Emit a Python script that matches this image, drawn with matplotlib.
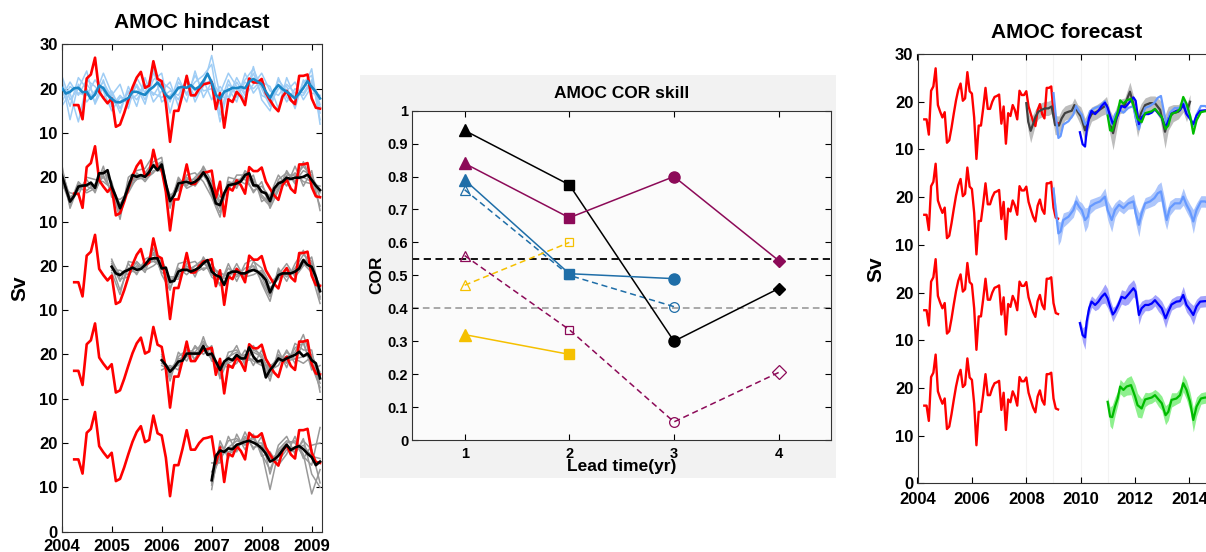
import numpy as np
import matplotlib
matplotlib.use('Agg')
import matplotlib.pyplot as plt
from matplotlib.patches import Rectangle

plt.rcParams['font.family'] = ['Liberation Sans', 'DejaVu Sans']
plt.rcParams['font.weight'] = 'bold'

W, H = 1206, 552

# --- observed AMOC (RAPID), monthly from 2004.25 ---
obs_start = 2004.25
obs = [16.3, 16.3, 13.1, 22.3, 23.2, 27.0, 19.3, 17.9, 16.7, 17.8,
       11.4, 11.9, 14.5, 17.5, 20.3, 22.5, 23.8, 20.2, 20.7, 26.2,
       22.2, 21.7, 16.7, 8.0, 15.0, 15.0, 18.7, 22.9, 18.5, 18.5,
       20.0, 21.0, 21.2, 21.5, 15.4, 19.0, 11.2, 17.6, 17.0, 19.3,
       18.2, 16.3, 22.3, 21.4, 21.4, 22.2, 19.0, 17.4, 15.9, 14.9,
       18.2, 19.5, 17.4, 16.5, 22.9, 22.9, 23.2, 17.8, 15.7, 15.5]

# --- hindcast ensemble means (monthly) ---
hc1_start = 2004.0
hc1_mean = [20.2, 18.9, 19.3, 20.1, 20.2, 19.2, 19.3, 17.7, 18.7, 20.7,
            20.1, 18.6, 17.7, 17.0, 16.9, 17.4, 17.9, 19.3, 19.3, 18.9,
            18.6, 19.7, 20.4, 21.4, 20.2, 18.6, 17.8, 18.9, 20.2, 20.4,
            20.2, 20.8, 19.9, 20.4, 21.7, 23.4, 21.4, 18.6, 17.7, 19.3,
            19.7, 20.2, 20.1, 20.4, 20.1, 21.6, 22.2, 21.6, 21.0, 19.3,
            17.9, 19.7, 20.8, 19.9, 19.3, 18.6, 17.8, 18.9, 20.2, 21.7,
            20.4, 19.3, 17.8]
hc2_start = 2004.0
hc2_mean = [20.5, 17.5, 14.5, 15.8, 17.9, 18.1, 18.2, 18.8, 17.6, 20.9,
            20.9, 21.6, 17.9, 15.6, 13.0, 15.2, 17.9, 20.5, 20.1, 20.5,
            20.1, 21.2, 22.7, 21.6, 22.9, 18.6, 14.6, 16.0, 18.6, 18.8,
            19.0, 18.6, 19.0, 19.7, 21.1, 19.7, 17.5, 14.1, 13.7, 16.4,
            18.2, 18.4, 18.6, 19.1, 20.5, 20.9, 18.2, 18.1, 16.7, 16.4,
            14.6, 17.5, 18.6, 19.0, 19.9, 19.6, 19.9, 19.9, 20.1, 20.6,
            19.4, 18.1, 17.1]
hc3_start = 2005.0
hc3_mean = [19.8, 18.3, 17.9, 18.7, 19.1, 19.6, 19.1, 19.3, 20.2, 21.5,
            21.7, 21.7, 19.4, 19.6, 16.4, 16.6, 18.7, 19.1, 19.1, 18.7,
            19.1, 19.6, 20.6, 21.3, 18.7, 17.9, 17.5, 15.7, 18.3, 18.7,
            18.7, 18.3, 18.3, 18.8, 19.1, 18.7, 17.9, 16.8, 14.0, 16.0,
            17.9, 18.3, 18.3, 18.3, 18.7, 19.4, 21.3, 20.2, 19.8, 17.5,
            14.3]
hc4_start = 2006.0
hc4_mean = [18.7, 17.6, 16.1, 17.1, 18.4, 18.6, 20.2, 20.2, 20.2, 20.2,
            21.9, 19.9, 20.2, 18.4, 16.5, 18.4, 19.1, 18.7, 19.9, 19.1,
            19.1, 21.6, 19.5, 18.4, 18.7, 14.8, 16.5, 17.6, 19.1, 18.6,
            19.1, 19.5, 19.9, 20.6, 19.6, 20.2, 18.7, 18.0, 14.6]
hc5_start = 2007.0
hc5_mean = [11.6, 17.1, 18.3, 18.0, 18.8, 18.6, 19.6, 19.9, 20.3, 20.5,
            20.1, 19.6, 18.8, 17.6, 15.8, 16.3, 17.1, 18.4, 19.6, 18.4,
            19.0, 19.3, 18.6, 17.6, 16.8, 15.0, 15.8]

# --- hindcast members (every 2 months) ---
hc1_members = [
    [21.5, 16.0, 22.5, 20.0, 17.0, 22.0, 16.0, 18.5, 16.5, 21.0, 17.5, 22.0, 23.5, 14.5, 21.5, 19.0,
     21.5, 23.0, 25.5, 14.0, 21.0, 19.0, 22.0, 24.5, 20.0, 16.0, 22.5, 18.0, 16.5, 21.5, 23.0, 13.0],
    [18.0, 21.5, 18.5, 22.0, 20.5, 18.0, 19.5, 15.5, 19.5, 17.5, 20.5, 19.0, 18.0, 19.5, 18.5, 22.0,
     18.0, 20.5, 27.5, 18.5, 17.5, 21.5, 18.5, 21.0, 23.5, 19.5, 18.5, 21.0, 19.0, 18.5, 21.5, 16.5],
    [22.5, 13.0, 21.0, 17.0, 19.5, 21.5, 18.0, 17.0, 19.0, 20.5, 16.5, 23.5, 21.0, 17.0, 22.5, 18.5,
     23.0, 19.5, 20.0, 16.5, 22.0, 18.0, 21.5, 20.0, 22.0, 16.5, 20.0, 20.5, 15.5, 22.0, 19.0, 18.5],
    [17.0, 20.5, 19.0, 18.5, 22.0, 19.5, 15.0, 18.0, 17.5, 18.5, 21.0, 18.5, 21.5, 20.0, 17.5, 21.5,
     19.5, 22.0, 17.5, 20.5, 18.0, 22.5, 19.0, 23.5, 18.5, 17.5, 21.0, 17.0, 20.0, 19.0, 22.0, 14.5],
    [16.0, 19.0, 12.5, 21.0, 18.5, 23.5, 19.0, 14.5, 20.5, 16.0, 22.5, 17.0, 19.5, 21.5, 16.0, 23.0,
     17.0, 21.0, 22.0, 12.5, 20.0, 17.0, 23.5, 19.0, 21.5, 20.5, 15.5, 22.5, 18.0, 20.0, 24.5, 12.0],
    [23.0, 17.5, 20.0, 24.0, 16.5, 20.5, 18.5, 21.0, 15.5, 22.5, 19.0, 24.5, 17.0, 18.5, 20.5, 17.0,
     24.0, 18.0, 21.5, 19.0, 23.5, 20.5, 17.5, 25.0, 17.5, 15.0, 22.0, 19.5, 21.5, 17.5, 20.5, 16.0],
]
hc2_members = [
    [21.5, 15.5, 17.0, 19.5, 16.5, 21.5, 19.0, 11.5, 19.0, 19.5, 21.0, 23.5, 24.5, 13.0, 19.5, 18.0,
     20.0, 22.0, 16.0, 12.0, 19.0, 17.5, 21.5, 19.5, 15.5, 13.5, 19.5, 21.0, 19.0, 21.5, 20.5, 15.5],
    [19.0, 14.0, 19.0, 17.0, 18.5, 20.0, 17.0, 14.0, 17.0, 21.0, 19.0, 21.5, 21.5, 15.5, 17.5, 20.0,
     18.0, 20.5, 18.5, 14.5, 17.5, 19.5, 19.5, 17.0, 18.0, 15.5, 18.0, 19.0, 21.0, 19.0, 18.5, 18.0],
    [20.5, 13.5, 18.5, 18.0, 17.0, 20.5, 16.5, 12.5, 18.5, 20.5, 20.5, 23.0, 22.0, 15.0, 19.0, 19.5,
     19.5, 21.5, 17.0, 13.0, 18.5, 18.0, 20.0, 19.0, 16.0, 14.0, 17.5, 20.5, 20.5, 20.0, 19.0, 13.5],
    [22.0, 15.0, 17.5, 18.5, 18.0, 21.5, 18.5, 13.5, 17.5, 19.5, 20.0, 22.5, 23.5, 14.0, 18.0, 18.5,
     19.0, 20.5, 17.5, 14.0, 19.0, 18.5, 21.0, 18.0, 17.0, 15.0, 19.0, 19.5, 20.0, 22.5, 20.0, 17.0],
    [18.0, 16.5, 16.0, 20.0, 19.5, 19.0, 17.5, 10.5, 20.0, 21.5, 22.0, 25.0, 21.0, 16.0, 17.0, 20.5,
     21.0, 19.0, 15.5, 11.0, 20.0, 19.5, 18.5, 20.5, 14.5, 16.0, 20.5, 18.0, 22.5, 18.0, 21.5, 12.5],
    [23.0, 13.0, 18.0, 16.5, 17.5, 22.5, 15.5, 15.0, 16.5, 20.0, 19.5, 21.0, 23.5, 13.5, 20.0, 17.5,
     18.5, 22.5, 19.0, 15.5, 17.0, 20.5, 20.5, 16.5, 19.0, 13.0, 17.0, 21.5, 18.5, 23.5, 19.0, 16.5],
]
hc3_members = [
    [20.5, 16.5, 20.5, 18.0, 21.5, 22.5, 20.5, 15.0, 19.5, 18.0, 20.0, 21.5, 17.5,
     16.0, 19.5, 17.5, 19.5, 20.0, 16.5, 13.0, 19.0, 17.5, 19.5, 22.5, 21.0, 12.5],
    [19.0, 19.0, 18.0, 20.0, 19.5, 23.0, 18.5, 17.5, 17.5, 20.0, 18.5, 19.5, 19.5,
     18.5, 17.5, 19.5, 17.5, 18.0, 19.0, 15.0, 17.0, 19.5, 18.0, 20.5, 18.5, 15.5],
    [20.0, 14.5, 19.5, 19.5, 20.5, 21.0, 20.0, 16.0, 19.0, 19.5, 19.0, 21.0, 18.0,
     17.0, 18.5, 18.0, 18.5, 20.0, 17.5, 13.5, 18.5, 18.0, 19.0, 21.5, 20.5, 13.0],
    [21.0, 18.0, 19.0, 18.5, 20.0, 21.5, 19.5, 16.5, 18.0, 19.0, 20.0, 20.5, 19.5,
     18.0, 18.0, 19.0, 18.0, 19.0, 18.5, 14.5, 17.5, 19.0, 18.5, 21.0, 19.5, 15.5],
    [18.5, 13.5, 21.0, 20.5, 18.5, 24.0, 18.0, 14.5, 20.5, 21.0, 17.5, 22.0, 19.0,
     15.5, 20.5, 16.5, 20.5, 21.5, 16.0, 12.0, 19.5, 16.5, 20.5, 23.5, 18.0, 11.5],
    [21.5, 17.0, 17.5, 21.0, 19.0, 20.0, 21.5, 17.0, 17.0, 20.5, 21.0, 19.0, 20.5,
     17.5, 17.0, 20.5, 17.0, 21.0, 19.5, 16.0, 18.0, 20.5, 17.5, 20.0, 22.0, 14.0],
]
hc4_members = [
    [20.0, 15.0, 19.5, 21.0, 19.0, 22.5, 21.0, 15.0, 20.5, 21.0, 18.0, 21.0, 20.0, 15.0, 20.0, 18.0, 21.5, 22.5, 17.5, 12.5],
    [18.0, 17.0, 17.5, 19.5, 21.5, 21.0, 19.0, 17.5, 18.0, 19.0, 20.0, 18.5, 17.5, 17.5, 18.5, 20.5, 19.0, 18.0, 19.5, 16.0],
    [19.5, 15.5, 18.0, 21.0, 20.5, 23.0, 20.5, 16.0, 19.5, 20.5, 19.5, 20.5, 19.5, 16.0, 19.0, 19.5, 20.5, 24.5, 18.5, 13.5],
    [17.5, 16.5, 19.0, 19.5, 20.0, 21.5, 19.5, 17.0, 18.5, 19.5, 18.5, 19.0, 18.0, 17.0, 19.5, 18.5, 19.0, 19.5, 20.0, 15.0],
    [21.0, 14.0, 20.5, 18.5, 22.0, 20.0, 22.0, 14.5, 19.0, 22.0, 17.5, 22.0, 19.0, 14.0, 21.0, 17.0, 22.5, 21.0, 21.0, 11.5],
    [16.5, 17.5, 16.5, 22.0, 18.5, 24.0, 18.5, 18.0, 17.0, 18.0, 21.0, 17.5, 21.0, 16.5, 17.5, 21.0, 18.0, 23.0, 16.5, 17.5],
]
hc5_members = [
    [13.5, 17.0, 20.5, 21.0, 19.5, 21.5, 17.5, 14.0, 18.5, 20.5, 20.0, 17.0, 15.0, 23.5],
    [11.0, 19.5, 17.5, 18.5, 21.5, 19.0, 19.5, 17.0, 16.0, 18.5, 18.0, 20.5, 18.5, 11.0],
    [12.5, 16.5, 19.0, 20.5, 20.0, 21.0, 18.0, 9.5, 18.0, 20.0, 20.5, 17.5, 8.5, 14.0],
    [10.5, 18.5, 18.0, 19.0, 21.0, 20.0, 20.0, 16.5, 17.5, 19.0, 18.5, 19.5, 17.0, 16.5],
    [15.5, 15.5, 21.5, 18.0, 22.5, 18.5, 21.5, 13.0, 19.5, 21.5, 17.5, 21.0, 13.0, 10.0],
    [9.5, 20.5, 16.5, 22.0, 18.5, 22.0, 17.0, 18.0, 15.0, 17.5, 21.5, 16.5, 19.5, 20.0],
]

# --- forecasts (year, value, half-spread) ---
fc_gray_t = [2008.0, 2008.07, 2008.16, 2008.26, 2008.34, 2008.44, 2008.56, 2008.69, 2008.81, 2008.93,
             2009.06, 2009.20, 2009.30, 2009.42, 2009.55, 2009.67, 2009.77, 2009.89, 2010.01, 2010.16,
             2010.26, 2010.40, 2010.59, 2010.77, 2010.95, 2011.07, 2011.19, 2011.32, 2011.44, 2011.62,
             2011.81, 2011.93, 2012.09, 2012.22, 2012.37, 2012.55, 2012.73, 2012.92, 2013.10, 2013.22,
             2013.40, 2013.59, 2013.77, 2013.89, 2014.02]
fc_gray_v = [19.7, 15.8, 13.9, 15.5, 16.9, 17.9, 18.3, 18.6, 18.6, 19.0,
             15.1, 15.0, 16.5, 17.6, 17.9, 18.1, 19.3, 17.9, 16.9, 14.0,
             15.8, 17.4, 17.9, 18.6, 19.3, 15.8, 13.4, 16.5, 19.0, 19.3,
             22.1, 19.7, 15.1, 17.6, 19.3, 19.7, 19.7, 18.3, 13.7, 16.5,
             17.6, 17.9, 19.3, 17.6, 20.0]
fc_gray_s = [1.5, 2.0, 2.5, 2.0, 1.5, 1.5, 1.5, 1.5, 1.5, 1.5,
             2.0, 2.0, 1.8, 1.5, 1.5, 1.5, 1.5, 1.5, 2.0, 2.5,
             2.0, 1.5, 1.5, 1.5, 1.8, 2.5, 3.5, 2.5, 1.5, 1.5,
             2.0, 1.8, 2.5, 2.0, 1.5, 1.5, 1.5, 2.0, 3.5, 2.5,
             1.8, 1.5, 1.5, 1.8, 1.5]

fc_lblue_t = [2009.0, 2009.08, 2009.18, 2009.26, 2009.36, 2009.55, 2009.73, 2009.83, 2009.94, 2010.04,
              2010.16, 2010.26, 2010.34, 2010.53, 2010.71, 2010.89, 2010.99, 2011.14, 2011.26, 2011.41,
              2011.57, 2011.75, 2011.94, 2012.02, 2012.14, 2012.24, 2012.37, 2012.55, 2012.71, 2012.83,
              2012.95, 2013.08, 2013.16, 2013.28, 2013.46, 2013.65, 2013.77, 2013.89, 2014.02, 2014.14,
              2014.26, 2014.42, 2014.57, 2014.69]
fc_lblue_v = [21.8, 17.3, 12.4, 12.8, 15.2, 15.9, 17.3, 19.1, 18.0, 17.3,
              15.2, 15.9, 18.0, 18.7, 19.1, 20.1, 17.3, 15.2, 17.3, 18.4,
              17.7, 18.7, 19.1, 16.6, 14.2, 16.6, 18.7, 19.1, 19.8, 20.8,
              21.2, 17.3, 15.2, 17.7, 18.7, 18.7, 20.1, 18.4, 17.0, 14.9,
              17.3, 19.1, 19.1, 18.7]
fc_lblue_s = [1.0, 1.5, 2.5, 2.0, 1.5, 1.2, 1.5, 1.5, 1.2, 1.5,
              2.5, 2.0, 1.5, 1.2, 1.2, 1.8, 2.0, 2.5, 1.5, 1.2,
              1.2, 1.2, 1.5, 2.0, 2.5, 1.5, 1.2, 1.2, 1.5, 1.8,
              2.0, 2.5, 2.0, 1.5, 1.2, 1.2, 1.8, 1.5, 1.5, 2.5,
              1.5, 1.2, 1.2, 1.2]

fc_blue_t = [2009.97, 2010.07, 2010.16, 2010.22, 2010.31, 2010.40, 2010.53, 2010.65, 2010.77, 2010.89,
             2010.99, 2011.08, 2011.18, 2011.26, 2011.38, 2011.50, 2011.63, 2011.75, 2011.94, 2012.02,
             2012.14, 2012.24, 2012.37, 2012.49, 2012.61, 2012.73, 2012.86, 2012.98, 2013.12, 2013.22,
             2013.34, 2013.52, 2013.65, 2013.77, 2013.89, 2014.02, 2014.14, 2014.26, 2014.39, 2014.57,
             2014.69]
fc_blue_v = [13.6, 11.1, 10.6, 13.9, 16.7, 18.1, 17.4, 18.1, 19.1, 19.8,
             18.8, 17.1, 15.4, 16.0, 17.4, 19.1, 18.8, 19.6, 20.9, 20.2,
             15.3, 16.7, 17.4, 17.4, 17.7, 18.4, 17.5, 16.7, 14.6, 16.0,
             17.5, 18.1, 18.2, 19.5, 17.4, 16.4, 15.3, 17.1, 18.1, 18.2,
             18.2]
fc_blue_s = [1.0, 1.5, 2.5, 2.0, 1.5, 1.2, 1.2, 1.5, 1.5, 2.0,
             2.0, 1.5, 1.5, 1.2, 1.2, 1.5, 1.5, 2.0, 1.8, 1.5,
             2.0, 1.5, 1.2, 1.2, 1.2, 1.2, 1.5, 1.5, 2.0, 1.5,
             1.2, 1.2, 1.2, 1.8, 1.5, 1.5, 2.0, 1.5, 1.2, 1.2,
             1.2]

fc_green_t = [2010.99, 2011.08, 2011.16, 2011.26, 2011.36, 2011.45, 2011.57, 2011.69, 2011.85, 2012.0,
              2012.09, 2012.24, 2012.37, 2012.49, 2012.61, 2012.73, 2012.86, 2012.98, 2013.12, 2013.22,
              2013.34, 2013.52, 2013.65, 2013.77, 2013.89, 2014.02, 2014.14, 2014.26, 2014.42, 2014.57,
              2014.69]
fc_green_v = [17.1, 14.0, 13.9, 16.1, 17.8, 20.3, 19.6, 20.3, 20.6, 18.2,
              16.4, 15.7, 17.6, 17.8, 18.0, 18.5, 17.6, 16.8, 14.3, 15.0,
              17.5, 17.8, 18.5, 21.0, 19.6, 17.1, 13.3, 16.1, 17.8, 18.0,
              18.0]
fc_green_s = [1.0, 2.0, 2.5, 2.0, 1.5, 1.5, 1.5, 1.8, 2.0, 2.5,
              2.5, 2.0, 1.5, 1.2, 1.2, 1.2, 1.5, 1.5, 2.0, 1.8,
              1.5, 1.2, 1.5, 1.8, 2.0, 2.0, 2.5, 2.0, 1.2, 1.2,
              1.2]

# --- COR skill ---
lead = [1, 2, 3, 4]
markers = ['^', 's', 'o', 'D']
cor_black = [0.94, 0.775, 0.30, 0.46]
cor_purple = [0.84, 0.675, 0.80, 0.545]
cor_blue = [0.79, 0.505, 0.49]
cor_yellow = [0.32, 0.26]
cor_blue_dash = [0.76, 0.50, 0.405]
cor_yellow_dash = [0.47, 0.60]
cor_purple_dash = [0.56, 0.335, 0.055, 0.205]
sig_levels = [0.55, 0.40]

hind_yticks = [0, 10, 20, 10, 20, 10, 20, 10, 20, 10, 20, 30]
fore_yticks = [0, 10, 20, 10, 20, 10, 20, 10, 20, 30]
cor_yticks = ['0', '0.1', '0.2', '0.3', '0.4', '0.5', '0.6', '0.7', '0.8', '0.9', '1']

RED = '#ff0000'
C_BLACK, C_PURPLE, C_BLUE, C_YELLOW = '#000000', '#8c0a58', '#1f6ea8', '#f5c000'


def box(l, t, r, b):
    return [l / W, 1 - b / H, (r - l) / W, (b - t) / H]


def style(ax, size, xpad, ypad):
    ax.tick_params(direction='in', top=True, right=True, length=4, width=0.8, labelsize=size)
    ax.tick_params(axis='x', pad=xpad)
    ax.tick_params(axis='y', pad=ypad)
    for s in ax.spines.values():
        s.set_linewidth(0.8)
        s.set_color('#333333')


def monthly(start, vals):
    return start + np.arange(len(vals)) / 12.0


def bimonthly(start, vals):
    return start + np.arange(len(vals)) * 2 / 12.0


fig = plt.figure(figsize=(W / 100, H / 100), dpi=100)
# light grey panel behind the skill plot
fig.patches.append(Rectangle((360 / W, 1 - 478 / H), (836 - 360) / W, (478 - 75) / H,
                             transform=fig.transFigure, facecolor='#f2f2f2', edgecolor='none', zorder=-1))

# ---------------- hindcast ----------------
ax1 = fig.add_axes(box(61.7, 44.4, 321.7, 531.6))
t_obs = monthly(obs_start, obs)
panels = [(80, hc1_start, hc1_mean, hc1_members, '#9fcdf5', '#1a86c6'),
          (60, hc2_start, hc2_mean, hc2_members, '#999999', '#000000'),
          (40, hc3_start, hc3_mean, hc3_members, '#999999', '#000000'),
          (20, hc4_start, hc4_mean, hc4_members, '#999999', '#000000'),
          (0, hc5_start, hc5_mean, hc5_members, '#999999', '#000000')]
for off, st, mean, members, mcol, ccol in panels:
    for m in members:
        ax1.plot(bimonthly(st, m), np.array(m) + off, color=mcol, lw=1.1, zorder=2)
    ax1.plot(t_obs, np.array(obs) + off, color=RED, lw=1.9, zorder=3)
    ax1.plot(monthly(st, mean), np.array(mean) + off, color=ccol, lw=1.9, zorder=4)
ax1.set_xlim(2004, 2009.2)
ax1.set_ylim(0, 110)
ax1.set_xticks([2004, 2005, 2006, 2007, 2008, 2009])
ax1.set_yticks(np.arange(0, 111, 10))
ax1.set_yticklabels([str(v) for v in hind_yticks])
style(ax1, 12, 5, 3)
fig.text(192 / W, 1 - 22 / H, 'AMOC hindcast', ha='center', va='center', fontsize=15, fontweight='bold')
fig.text(20 / W, 1 - 288 / H, 'Sv', ha='center', va='center', rotation=90, fontsize=15, fontweight='bold')

# ---------------- COR skill ----------------
ax2 = fig.add_axes(box(412.3, 110.7, 831, 440))
ax2.set_facecolor('#fbfbfb')
ax2.axhline(sig_levels[0], color='#000000', ls='--', lw=1.3, dashes=(4, 2.5), zorder=1)
ax2.axhline(sig_levels[1], color='#9a9a9a', ls='--', lw=1.2, dashes=(4, 2.5), zorder=1)
solid = [(cor_black, C_BLACK), (cor_purple, C_PURPLE), (cor_blue, C_BLUE), (cor_yellow, C_YELLOW)]
dashed = [(cor_blue_dash, C_BLUE), (cor_yellow_dash, C_YELLOW), (cor_purple_dash, C_PURPLE)]
for vals, col in dashed:
    x = lead[:len(vals)]
    ax2.plot(x, vals, color=col, lw=1.1, ls='--', dashes=(4, 2.5), zorder=2)
    for xi, yi, mk in zip(x, vals, markers):
        ax2.plot(xi, yi, marker=mk, ms=7 if mk != 's' else 6, mfc='none', mec=col, mew=0.9, zorder=3)
for vals, col in solid:
    x = lead[:len(vals)]
    ax2.plot(x, vals, color=col, lw=1.1, zorder=4)
    for xi, yi, mk in zip(x, vals, markers):
        ax2.plot(xi, yi, marker=mk, ms=8 if mk in '^o' else 6.5, mfc=col, mec=col, zorder=5)
ax2.set_xlim(0.5, 4.5)
ax2.set_ylim(0, 1)
ax2.set_xticks(lead)
ax2.set_yticks(np.arange(0, 1.01, 0.1))
ax2.set_yticklabels(cor_yticks)
style(ax2, 10.5, 5, 3)
fig.text(622 / W, 1 - 93 / H, 'AMOC COR skill', ha='center', va='center', fontsize=12.5, fontweight='bold')
fig.text(377 / W, 1 - 275 / H, 'COR', ha='center', va='center', rotation=90, fontsize=12.5, fontweight='bold')
fig.text(622 / W, 1 - 466 / H, 'Lead time(yr)', ha='center', va='center', fontsize=12.5, fontweight='bold')

# ---------------- forecast ----------------
ax3 = fig.add_axes(box(917.5, 54, 917.5 + 12 * 27.2, 483.4))
for yr in [2008, 2009, 2010, 2011]:
    ax3.axvline(yr, color='#f3f3f3', lw=0.8, zorder=0)
for off in [60, 40, 20, 0]:
    ax3.plot(t_obs, np.array(obs) + off, color=RED, lw=1.7, zorder=3)

gv, gs = np.array(fc_gray_v), np.array(fc_gray_s)
ax3.fill_between(fc_gray_t, gv - gs + 60, gv + gs + 60, color='#bdbdbd', lw=0, zorder=2)
ax3.plot(fc_gray_t, gv + 60, color='#404040', lw=1.6, zorder=4)

fc = [(fc_lblue_t, fc_lblue_v, fc_lblue_s, '#6699ff', '#adc6fb', 40),
      (fc_blue_t, fc_blue_v, fc_blue_s, '#0000ff', '#a3a3fb', 20),
      (fc_green_t, fc_green_v, fc_green_s, '#00bb00', '#8ef08e', 0)]
for i, (t, v, s, col, shade, off) in enumerate(fc):
    v, s = np.array(v), np.array(s)
    ax3.fill_between(t, v - s + off, v + s + off, color=shade, lw=0, zorder=2)
    ax3.plot(t, v + off, color=col, lw=1.6, zorder=4)
    ax3.plot(t, v + 60, color=col, lw=1.6, zorder=5 + i)
ax3.set_xlim(2004, 2016)
ax3.set_ylim(0, 90)
ax3.set_xticks([2004, 2006, 2008, 2010, 2012, 2014])
ax3.set_yticks(np.arange(0, 91, 10))
ax3.set_yticklabels([str(v) for v in fore_yticks])
style(ax3, 12, 6, 3)
fig.text(1067 / W, 1 - 33 / H, 'AMOC forecast', ha='center', va='center', fontsize=15, fontweight='bold')
fig.text(876 / W, 1 - 269 / H, 'Sv', ha='center', va='center', rotation=90, fontsize=15, fontweight='bold')

fig.savefig('out.png', dpi=100)
